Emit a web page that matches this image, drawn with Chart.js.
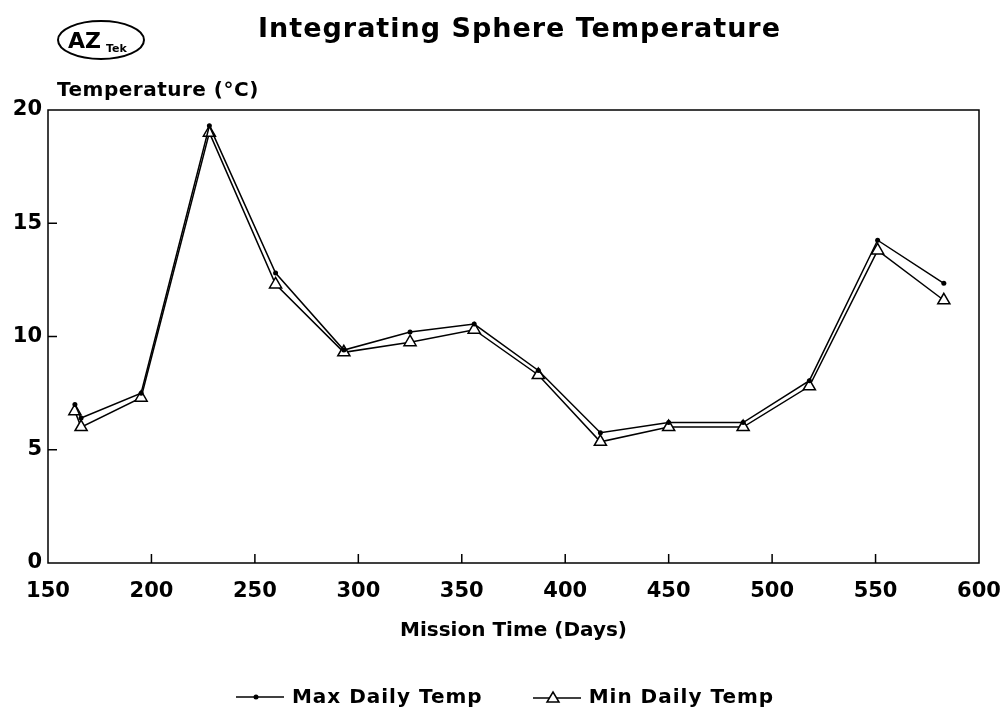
<!DOCTYPE html>
<html>
<head>
<meta charset="utf-8">
<script src="https://cdn.jsdelivr.net/npm/chart.js@4.4.1/dist/chart.umd.min.js"></script>
<style>
  html, body { margin: 0; padding: 0; background: #fff; }
  #wrap { position: relative; width: 1008px; height: 719px; font-family: "DejaVu Sans", sans-serif; color: #000; }
  #chart { position: absolute; left: 0; top: 0; }
  .title { position: absolute; left: 258px; top: 12px; font-size: 27px; font-weight: bold; letter-spacing: 1px; }
  .ytitle { position: absolute; left: 57px; top: 77px; font-size: 20px; font-weight: bold; letter-spacing: 0.5px; }
  .logo { position: absolute; left: 56px; top: 18px; }
  .legend { position: absolute; top: 682px; left: 0; width: 1008px; text-align: center; font-size: 20px; font-weight: bold; letter-spacing: 1px; }
  .legend span { display: inline-block; margin: 0 20px; vertical-align: middle; }
  .legend svg { vertical-align: middle; margin-right: 6px; }
</style>
</head>
<body>
<div id="wrap">
  <canvas id="chart" width="1008" height="719"></canvas>
  <div class="logo">
    <svg width="92" height="44">
      <ellipse cx="45" cy="22" rx="43" ry="19" fill="none" stroke="#000" stroke-width="2"/>
      <text x="12" y="30" font-family="DejaVu Sans" font-weight="bold" font-size="22">AZ</text>
      <text x="50" y="34" font-family="DejaVu Sans" font-weight="bold" font-size="11">Tek</text>
    </svg>
  </div>
  <div class="title">Integrating Sphere Temperature</div>
  <div class="ytitle">Temperature (°C)</div>
  <div class="legend">
    <span><svg width="52" height="16"><line x1="2" y1="8" x2="50" y2="8" stroke="#000" stroke-width="1.5"/><circle cx="22" cy="8" r="2.5" fill="#000"/></svg>Max Daily Temp</span>
    <span><svg width="52" height="16"><line x1="2" y1="9" x2="50" y2="9" stroke="#000" stroke-width="1.5"/><polygon points="22,3 28,13 16,13" fill="#fff" stroke="#000" stroke-width="1.5"/></svg>Min Daily Temp</span>
  </div>
</div>
<script>
// values
const days = [163, 166, 195, 228, 260, 293, 325, 356, 387, 417, 450, 486, 518, 551, 583];
const maxTemp = [7.0, 6.4, 7.5, 19.3, 12.8, 9.4, 10.2, 10.55, 8.5, 5.75, 6.2, 6.2, 8.05, 14.25, 12.35];
const minTemp = [6.7, 6.0, 7.3, 19.0, 12.3, 9.3, 9.75, 10.3, 8.3, 5.35, 6.0, 6.0, 7.8, 13.8, 11.6];
const xTicks = [150, 200, 250, 300, 350, 400, 450, 500, 550, 600];
const yTicks = [0, 5, 10, 15, 20];

const toPoints = (vals) => vals.map((v, i) => ({ x: days[i], y: v }));

// box around the plot and short inward tick marks
const frame = {
  id: 'frame',
  afterDraw(chart) {
    const { ctx, chartArea: a, scales } = chart;
    ctx.save();
    ctx.strokeStyle = '#000';
    ctx.lineWidth = 1.5;
    ctx.strokeRect(a.left, a.top, a.right - a.left, a.bottom - a.top);
    ctx.beginPath();
    xTicks.slice(1, -1).forEach(t => {
      const px = scales.x.getPixelForValue(t);
      ctx.moveTo(px, a.bottom);
      ctx.lineTo(px, a.bottom - 9);
    });
    yTicks.slice(1, -1).forEach(t => {
      const py = scales.y.getPixelForValue(t);
      ctx.moveTo(a.left, py);
      ctx.lineTo(a.left + 9, py);
    });
    ctx.stroke();
    ctx.restore();
  }
};

new Chart(document.getElementById('chart'), {
  type: 'scatter',
  data: {
    datasets: [
      {
        label: 'Max Daily Temp',
        data: toPoints(maxTemp),
        showLine: true,
        borderColor: '#000',
        borderWidth: 1.5,
        pointStyle: 'circle',
        pointRadius: 2.5,
        pointBackgroundColor: '#000',
        pointBorderWidth: 0
      },
      {
        label: 'Min Daily Temp',
        data: toPoints(minTemp),
        showLine: true,
        borderColor: '#000',
        borderWidth: 1.5,
        pointStyle: 'triangle',
        pointRadius: 7,
        pointBackgroundColor: '#fff',
        pointBorderColor: '#000',
        pointBorderWidth: 1.5
      }
    ]
  },
  options: {
    responsive: false,
    animation: false,
    layout: { padding: { top: 110, right: 29, bottom: 76, left: 0 } },
    plugins: { legend: { display: false }, tooltip: { enabled: false } },
    scales: {
      x: {
        type: 'linear',
        min: 150,
        max: 600,
        afterBuildTicks: s => { s.ticks = xTicks.map(v => ({ value: v })); },
        afterFit: s => { s.height = 80; s.paddingRight = 0; s.paddingLeft = 0; },
        grid: { display: false, drawTicks: false },
        border: { display: false },
        ticks: { color: '#000', padding: 16, font: { family: 'DejaVu Sans', size: 21, weight: 'bold' } },
        title: {
          display: true,
          text: 'Mission Time (Days)',
          color: '#000',
          padding: { top: 0, bottom: 0 },
          font: { family: 'DejaVu Sans', size: 20, weight: 'bold' }
        }
      },
      y: {
        min: 0,
        max: 20,
        afterBuildTicks: s => { s.ticks = yTicks.map(v => ({ value: v })); },
        afterFit: s => { s.width = 48; s.paddingTop = 0; s.paddingBottom = 0; },
        grid: { display: false, drawTicks: false },
        border: { display: false },
        ticks: { color: '#000', padding: 6, font: { family: 'DejaVu Sans', size: 21, weight: 'bold' } }
      }
    }
  },
  plugins: [frame]
});
</script>
</body>
</html>
